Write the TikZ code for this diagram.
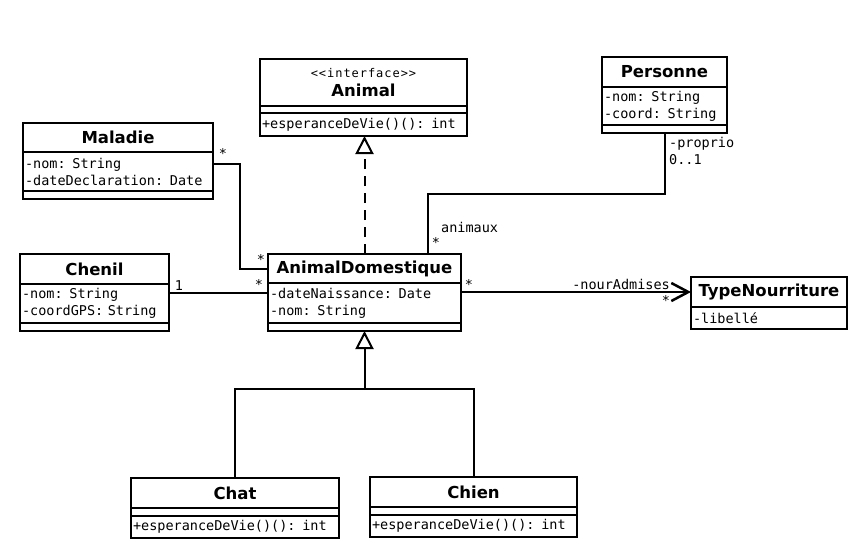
\documentclass[tikz,border=0pt]{standalone}
\usepackage{fontspec}
\setsansfont{DejaVu Sans}
\setmonofont{DejaVu Sans Mono}
\newfontfamily\stereofont{DejaVu Sans Mono}[LetterSpace=8]
\usetikzlibrary{arrows.meta,positioning}

\begin{document}
\begin{tikzpicture}[x=1pt,y=-1pt]
\tikzstyle{head} = [draw,line width=2pt,outer sep=0pt,inner sep=0pt,anchor=north west,minimum height=30pt,align=center,font=\sffamily\bfseries\fontsize{16.5}{19}\selectfont]
\tikzstyle{part} = [draw,line width=2pt,outer sep=0pt,inner xsep=2pt,inner ysep=0pt,align=left,font=\ttfamily\fontsize{13.5}{17}\selectfont]
\tikzstyle{mult} = [inner sep=0pt,font=\ttfamily\fontsize{13.5}{16}\selectfont]
\tikzstyle{assoc} = [line width=2pt]

\useasboundingbox (0,0) rectangle (867,549);

\node[head,minimum width=207pt,minimum height=47pt] (ani) at (260,59) {{\stereofont\mdseries\fontsize{12}{13}\selectfont <{}<interface>{}>}\\Animal};
\node[part,text width=203pt,minimum height=7pt,below=0pt of ani] (ani-att) {};
\node[part,text width=203pt,minimum height=23pt,below=0pt of ani-att] (ani-op) {+esperanceDeVie()(): int};

\node[head,minimum width=190pt,minimum height=29pt] (mal) at (23,123) {Maladie};
\node[part,text width=186pt,minimum height=39pt,below=0pt of mal] (mal-att) {-nom: String\\-dateDeclaration: Date};
\node[part,text width=186pt,minimum height=8pt,below=0pt of mal-att] (mal-op) {};

\node[head,minimum width=125pt] (per) at (602,57) {Personne};
\node[part,text width=121pt,minimum height=38pt,below=0pt of per] (per-att) {-nom: String\\-coord: String};
\node[part,text width=121pt,minimum height=8pt,below=0pt of per-att] (per-op) {};

\node[head,minimum width=149pt] (che) at (20,254) {Chenil};
\node[part,text width=145pt,minimum height=39pt,below=0pt of che] (che-att) {-nom: String\\-coordGPS: String};
\node[part,text width=145pt,minimum height=8pt,below=0pt of che-att] (che-op) {};

\node[head,minimum width=193pt,minimum height=29pt] (dom) at (268,254) {AnimalDomestique};
\node[part,text width=189pt,minimum height=40pt,below=0pt of dom] (dom-att) {-dateNaissance: Date\\-nom: String};
\node[part,text width=189pt,minimum height=8pt,below=0pt of dom-att] (dom-op) {};

\node[head,minimum width=156pt] (typ) at (691,277) {TypeNourriture};
\node[part,text width=152pt,minimum height=22pt,below=0pt of typ] (typ-att) {-libellé};

\node[head,minimum width=208pt] (cha) at (131,478) {Chat};
\node[part,text width=204pt,minimum height=8pt,below=0pt of cha] (cha-att) {};
\node[part,text width=204pt,minimum height=22pt,below=0pt of cha-att] (cha-op) {+esperanceDeVie()(): int};

\node[head,minimum width=207pt] (chi) at (370,477) {Chien};
\node[part,text width=203pt,minimum height=8pt,below=0pt of chi] (chi-att) {};
\node[part,text width=203pt,minimum height=22pt,below=0pt of chi-att] (chi-op) {+esperanceDeVie()(): int};

\draw[assoc,dash pattern=on 10pt off 7pt,-{Triangle[open,length=18pt,width=18pt]}] (dom.north) -- (dom.north |- ani-op.south);
\draw[assoc] ([yshift=8pt]mal-att.east) -- ++(27,0) |- (dom.west);
\draw[assoc] ([yshift=11pt]che-att.east) -- ([yshift=11pt]che-att.east -| dom-att.west);
\draw[assoc] ([xshift=63.5pt]dom.north) |- ([yshift=-61pt]per-op.south) -- (per-op.south);
\draw[assoc,-{Straight Barb[length=17pt,width=18pt,line width=2.5pt]}] (dom-att.east |- typ.west) -- (typ.west);
\draw[assoc,-{Triangle[open,length=18pt,width=18pt]}] (cha.north) |- ([yshift=-58pt]dom-op.south) -- (dom-op.south);
\draw[assoc] (chi.north) |- ([yshift=-58pt]dom-op.south);

\node[mult] (m1) at (223,153) {*};
\node[mult] (m2) at (261,259) {*};
\node[mult] (m3) at (179,286) {1};
\node[mult] (m4) at (259,284) {*};
\node[mult] (m5) at (469,284) {*};
\node[mult,anchor=base east] (l1) at (670,289) {-nourAdmises};
\node[mult] (m6) at (666,300) {*};
\node[mult,anchor=base west] (l2) at (441,232) {animaux};
\node[mult] (m7) at (436,242) {*};
\node[mult,anchor=base west] (l3) at (669,147) {-proprio};
\node[mult,anchor=base west] (l4) at (669,164) {0..1};
\end{tikzpicture}
\end{document}
